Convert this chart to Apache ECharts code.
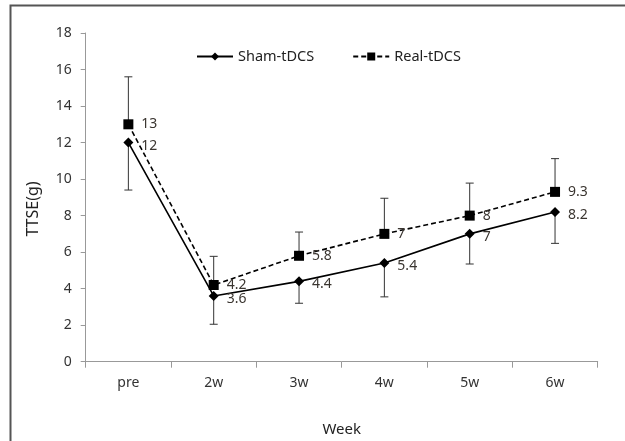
<!DOCTYPE html>
<html><head><meta charset="utf-8">
<script src="https://cdn.jsdelivr.net/npm/echarts@6/dist/echarts.min.js"></script>
<style>html,body{margin:0;padding:0;background:#fff}#c{width:625px;height:441px}</style>
</head><body><div id="c"></div>
<script>
var categories = ['pre','2w','3w','4w','5w','6w'];
var shamValues = [12, 3.6, 4.4, 5.4, 7, 8.2];
var realValues = [13, 4.2, 5.8, 7, 8, 9.3];
var shamErr = [2.6, 1.55, 1.2, 1.85, 1.65, 1.72];
var realErr = [2.6, 1.57, 1.3, 1.95, 1.78, 1.82];
var yTicks = [0,2,4,6,8,10,12,14,16,18];

var FONT = '"Noto Sans", sans-serif';
var chart = echarts.init(document.getElementById('c'), null, {renderer:'canvas'});

function errSeries(vals, errs, up){
  var d = vals.map(function(v,i){ return up ? [i, v, v+errs[i]] : [i, v-errs[i], v]; });
  return {
    type:'custom', silent:true, z:1,
    data:d,
    renderItem:function(params, api){
      var x = api.coord([api.value(0), api.value(1)]);
      var y2 = api.coord([api.value(0), api.value(2)]);
      var capY = up ? y2[1] : x[1];
      return {type:'group', children:[
        {type:'line', shape:{x1:x[0], y1:x[1], x2:y2[0], y2:y2[1]}, style:{stroke:'#333', lineWidth:1}},
        {type:'line', shape:{x1:x[0]-4, y1:capY, x2:x[0]+4, y2:capY}, style:{stroke:'#333', lineWidth:1}}
      ]};
    }
  };
}

chart.setOption({
  animation:false,
  textStyle:{fontFamily:FONT},
  graphic:[
    {type:'rect', shape:{x:10.5, y:5.5, width:700, height:500}, style:{fill:'none', stroke:'#555', lineWidth:2}},
    {type:'text', x:33, y:209, rotation:Math.PI/2, style:{text:'TTSE(g)', font:'16px '+FONT, fill:'#222', textAlign:'center', textVerticalAlign:'middle'}}
  ],
  legend:{
    left:191, top:44, itemWidth:36, itemHeight:10, itemGap:38, padding:5,
    textStyle:{fontFamily:FONT, fontSize:14.5, color:'#222'},
    data:['Sham-tDCS','Real-tDCS']
  },
  grid:{left:85.7, right:27.3, top:33, bottom:79.3, outerBoundsMode:'none', containLabel:false},
  xAxis:{
    type:'category', data:categories, boundaryGap:true,
    name:'Week', nameLocation:'middle', nameGap:61,
    nameTextStyle:{fontFamily:FONT, fontSize:15, color:'#222'},
    axisLine:{lineStyle:{color:'#999', width:1}},
    axisTick:{show:true, length:6, lineStyle:{color:'#999'}},
    axisLabel:{margin:14, fontFamily:FONT, fontSize:14, color:'#333'}
  },
  yAxis:{
    type:'value', min:0, max:18, interval:2,
    axisLine:{show:true, lineStyle:{color:'#999'}},
    axisTick:{show:true, length:5, lineStyle:{color:'#999'}},
    splitLine:{show:false},
    axisLabel:{margin:14, fontFamily:FONT, fontSize:14, color:'#333',
      formatter:function(v){ return yTicks.indexOf(v)>=0 ? String(v) : ''; }}
  },
  series:[
    errSeries(realValues, realErr, true),
    errSeries(shamValues, shamErr, false),
    {
      name:'Sham-tDCS', type:'line', data:shamValues, z:3,
      symbol:'diamond', symbolSize:10,
      lineStyle:{color:'#000', width:1.6, type:'solid'},
      itemStyle:{color:'#000'},
      label:{show:true, position:'right', distance:8, offset:[0,3], fontFamily:FONT, fontSize:14, color:'#3a3530'}
    },
    {
      name:'Real-tDCS', type:'line', data:realValues, z:3,
      symbol:'rect', symbolSize:10,
      lineStyle:{color:'#000', width:1.6, type:[5,3]},
      itemStyle:{color:'#000'},
      label:{show:true, position:'right', distance:8, offset:[0,0], fontFamily:FONT, fontSize:14, color:'#3a3530'}
    }
  ]
});
</script></body></html>
